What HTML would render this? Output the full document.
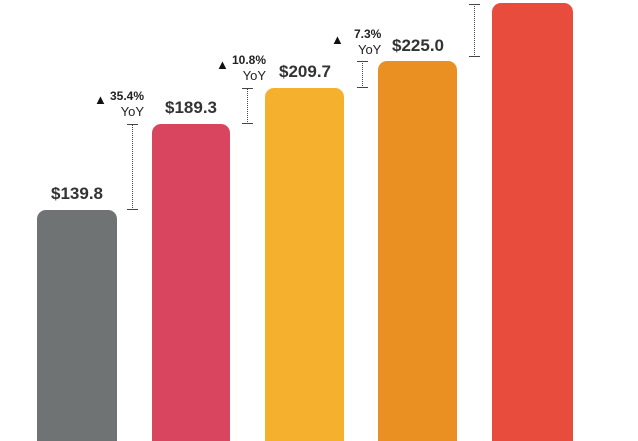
<!DOCTYPE html><html><head><style>
html,body{margin:0;width:638px;height:441px;overflow:hidden}
#c{position:relative;width:638px;height:441px;overflow:hidden;background:#fff;font-family:"Liberation Sans",sans-serif}
.b{position:absolute;bottom:-10px;border-radius:9px}
.v{position:absolute;font-weight:bold;font-size:17px;color:#333;width:100px;text-align:center}
.y{position:absolute;font-size:13px;color:#222;line-height:15px;text-align:right}
.y b{font-size:12px}
.t{position:absolute;font-size:13px;color:#111}
.k{position:absolute;border-left:1.5px dotted #444;width:0}
.k:before,.k:after{content:"";position:absolute;left:-6px;width:11px;border-top:1px solid #444}
.k:before{top:0}.k:after{bottom:0}
</style></head><body><div id="c">
<div class="b" style="left:37px;width:80px;top:210px;background:#707373"></div>
<div class="b" style="left:152px;width:78px;top:124px;background:#d9455f"></div>
<div class="b" style="left:265px;width:79px;top:88px;background:#f5b12e"></div>
<div class="b" style="left:378px;width:79px;top:61px;background:#ea9023"></div>
<div class="b" style="left:492px;width:81px;top:3px;background:#e84c3d"></div>
<div class="v" style="left:27px;top:184px">$139.8</div>
<div class="v" style="left:141px;top:98px">$189.3</div>
<div class="v" style="left:255px;top:62px">$209.7</div>
<div class="v" style="left:368px;top:36px">$225.0</div>
<div class="k" style="left:132px;top:124px;height:86px"></div>
<div class="k" style="left:247px;top:88px;height:36px"></div>
<div class="k" style="left:362px;top:61px;height:27px"></div>
<div class="k" style="left:474px;top:4px;height:53px"></div>
<div class="t" style="left:94px;top:92px">▲</div>
<div class="y" style="left:110px;top:88px"><b>35.4%</b><br>YoY</div>
<div class="t" style="left:216px;top:57px">▲</div>
<div class="y" style="left:232px;top:52px"><b>10.8%</b><br>YoY</div>
<div class="t" style="left:331px;top:32px">▲</div>
<div class="y" style="left:354px;top:26px"><b>7.3%</b><br>YoY</div>
</div></body></html>
